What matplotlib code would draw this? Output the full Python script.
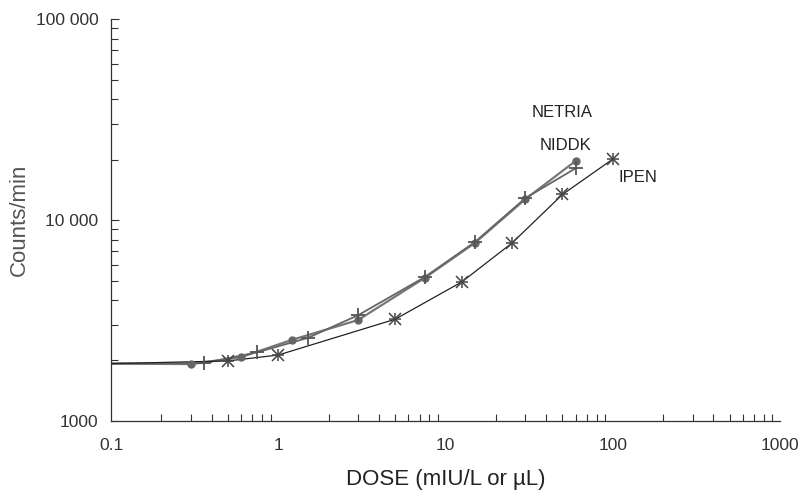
import numpy as np
from matplotlib import pyplot as plt
from matplotlib.ticker import LogLocator, NullFormatter, FixedLocator, FixedFormatter

plt.rcParams["font.family"] = ["Liberation Sans", "DejaVu Sans"]

# zero-dose starting point of all curves
x0, y0 = 0.1, 1930

netria_x = [0.3, 0.6, 1.2, 3, 7.5, 15, 30, 60]
netria_y = [1920, 2080, 2530, 3180, 5150, 7700, 12700, 19700]

niddk_x = [0.36, 0.75, 1.5, 3, 7.5, 15, 30, 60]
niddk_y = [1940, 2200, 2590, 3360, 5200, 7780, 12850, 18100]

ipen_x = [0.5, 1, 5, 12.5, 25, 50, 100]
ipen_y = [1990, 2130, 3210, 4920, 7690, 13400, 20100]

fig = plt.figure(figsize=(8.05, 4.95), dpi=100)
ax = fig.add_axes([0.138, 0.1495, 0.831, 0.812])

# curves
ax.plot([x0] + netria_x, [y0] + netria_y, color="#777777", lw=1.6)
ax.plot([x0] + niddk_x, [y0] + niddk_y, color="#666666", lw=1.3)
ax.plot([x0] + ipen_x, [y0] + ipen_y, color="#222222", lw=0.9)

# markers
ax.plot(netria_x, netria_y, "o", color="#666666", ms=5, ls="none")
ax.plot(niddk_x, niddk_y, "+", color="#555555", ms=10, mew=1.3, ls="none")
for m in ["+", "x"]:
    ax.plot(ipen_x, ipen_y, m, color="#444444", ms=9, mew=1.1, ls="none")

ax.set_xscale("log")
ax.set_yscale("log")
ax.set_xlim(0.1, 1000)
ax.set_ylim(1000, 100000)

for s in ["top", "right"]:
    ax.spines[s].set_visible(False)
for s in ["left", "bottom"]:
    ax.spines[s].set_color("#333333")
    ax.spines[s].set_linewidth(0.9)

ax.xaxis.set_major_locator(FixedLocator([0.1, 1, 10, 100, 1000]))
ax.xaxis.set_major_formatter(FixedFormatter(["0.1", "1", "10", "100", "1000"]))
ax.xaxis.set_minor_locator(LogLocator(base=10, subs=np.arange(2, 10)))
ax.xaxis.set_minor_formatter(NullFormatter())
ax.yaxis.set_major_locator(FixedLocator([1000, 10000, 100000]))
ax.yaxis.set_major_formatter(FixedFormatter(["1000", "10 000", "100 000"]))
ax.yaxis.set_minor_locator(LogLocator(base=10, subs=np.arange(2, 10)))
ax.yaxis.set_minor_formatter(NullFormatter())

ax.tick_params(axis="x", which="major", direction="in", length=0, pad=12,
               labelsize=12.5, colors="#333333")
ax.tick_params(axis="x", which="minor", direction="in", length=5, width=0.8,
               color="#333333")
ax.tick_params(axis="y", which="major", direction="in", length=6, width=0.8,
               pad=9, labelsize=12.5, colors="#333333")
ax.tick_params(axis="y", which="minor", direction="in", length=5, width=0.8,
               color="#333333")

ax.set_xlabel("DOSE (mIU/L or µL)", fontsize=16, color="#222222", labelpad=12)
ax.set_ylabel("Counts/min", fontsize=16, color="#555555")
ax.yaxis.set_label_coords(-0.121, 0.5)

ax.text(50, 34400, "NETRIA", fontsize=12, ha="center", va="center", color="#222222")
ax.text(52, 23600, "NIDDK", fontsize=12, ha="center", va="center", color="#222222")
ax.text(108, 16200, "IPEN", fontsize=12, ha="left", va="center", color="#222222")

fig.savefig("out.png", dpi=100)
